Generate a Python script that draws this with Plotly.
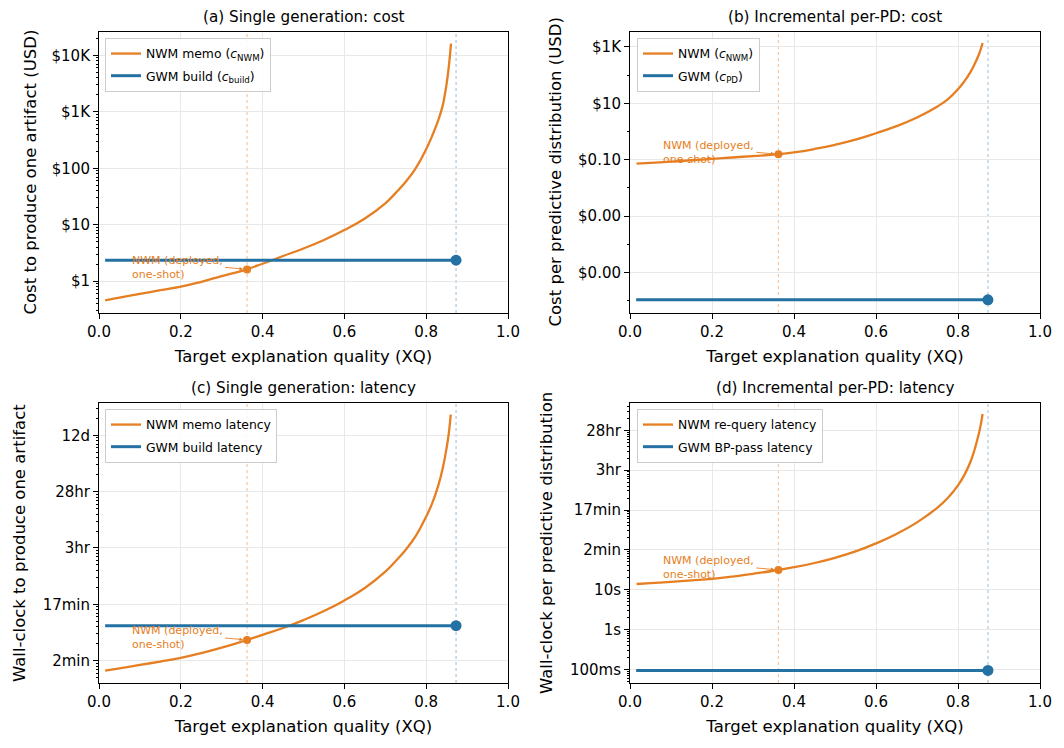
import numpy as np
import plotly.graph_objects as go

# target explanation quality (XQ) where things sit
xq_start = 0.015
xq_deployed = 0.362
xq_gwm = 0.873

# (a) single generation: cost (USD)
xq_a = [0.015, 0.05, 0.10, 0.15, 0.20, 0.25, 0.30, 0.35, 0.40, 0.45, 0.50,
        0.55, 0.60, 0.65, 0.70, 0.725, 0.75, 0.775, 0.80, 0.815, 0.83, 0.84,
        0.845, 0.85, 0.855, 0.8606]
cost_memo = [0.459, 0.513, 0.596, 0.692, 0.800, 0.977, 1.23, 1.53, 2.04, 2.79,
             3.80, 5.37, 8.04, 12.9, 24.0, 36.3, 57.5, 102, 219, 380, 724,
             1260, 1900, 3160, 6030, 16100]
cost_build = 2.36

# (b) incremental per-PD: cost (USD)
xq_b = [0.016, 0.05, 0.10, 0.15, 0.20, 0.25, 0.30, 0.35, 0.40, 0.45, 0.50,
        0.55, 0.60, 0.65, 0.70, 0.75, 0.775, 0.80, 0.815, 0.83, 0.84, 0.85,
        0.855, 0.860]
cost_pd_nwm = [0.0721, 0.0776, 0.0851, 0.0955, 0.107, 0.120, 0.135, 0.151,
               0.182, 0.240, 0.339, 0.513, 0.871, 1.55, 3.16, 7.76, 13.8,
               31.6, 58.9, 126, 240, 501, 794, 1380]
cost_pd_gwm = 1.07e-6

# (c) single generation: latency (seconds)
xq_c = [0.015, 0.05, 0.10, 0.15, 0.20, 0.25, 0.30, 0.35, 0.40, 0.45, 0.50,
        0.55, 0.60, 0.65, 0.70, 0.725, 0.75, 0.775, 0.80, 0.815, 0.83, 0.84,
        0.85, 0.855, 0.860]
lat_memo = [66.4, 73.3, 84.1, 96.6, 112, 136, 170, 219, 288, 380, 525, 759,
            1175, 1950, 3800, 5820, 9330, 16600, 36300, 63100, 132000, 251000,
            603000, 1047000, 2330000]
lat_build = 418

# (d) incremental per-PD: latency (seconds)
xq_d = [0.016, 0.05, 0.10, 0.15, 0.20, 0.25, 0.30, 0.35, 0.40, 0.45, 0.50,
        0.55, 0.60, 0.65, 0.70, 0.75, 0.775, 0.80, 0.815, 0.83, 0.84, 0.85,
        0.855, 0.860]
lat_requery = [13.9, 14.6, 15.8, 17.2, 18.8, 21.4, 25.1, 29.9, 36.7, 46.8,
               63.1, 91.2, 145, 251, 490, 1150, 2000, 4170, 7410, 15800,
               31600, 75900, 129000, 257000]
lat_bp = 0.094

# NWM deployed (one-shot) point in each panel
deployed_vals = [1.62, 0.155, 233, 31.3]

# y ticks
cost_a_ticks = [1, 10, 100, 1000, 10000]
cost_a_text = ["$1", "$10", "$100", "$1K", "$10K"]
cost_b_ticks = [1e-5, 1e-3, 0.1, 10, 1000]
cost_b_text = ["$0.00", "$0.00", "$0.10", "$10", "$1K"]
lat_c_ticks = [100, 1000, 1e4, 1e5, 1e6]
lat_c_text = ["2min", "17min", "3hr", "28hr", "12d"]
lat_d_ticks = [0.1, 1, 10, 100, 1000, 1e4, 1e5]
lat_d_text = ["100ms", "1s", "10s", "2min", "17min", "3hr", "28hr"]

ORANGE = "#e67e22"
BLUE = "#2471a3"
FONT = "DejaVu Sans"
# page body has an 8px margin, so the figure is 16px smaller than the window
OFF = 8
W, H = 1064 - 2 * OFF, 748 - 2 * OFF


def minor_vals(lo, hi, subs):
    return [s * 10.0 ** k for k in range(lo, hi + 1) for s in subs]


def px(v, size):
    return (v - OFF) / size


panels = [
    dict(ax="", xdom=(99, 508), ydom=(32, 313), yr=(-0.563, 4.413),
         x=xq_a, y=cost_memo, flat=cost_build, dep=deployed_vals[0],
         ticks=cost_a_ticks, text=cost_a_text,
         minor=minor_vals(-1, 4, range(2, 10)),
         title="(a) Single generation: cost",
         ylabel="Cost to produce one artifact (USD)", ylab_x=30,
         n1="NWM memo (<i>c</i><sub>NWM</sub>)",
         n2="GWM build (<i>c</i><sub>build</sub>)", leg=(105, 38)),
    dict(ax="2", xdom=(630, 1040), ydom=(32, 313), yr=(-6.44, 3.532),
         x=xq_b, y=cost_pd_nwm, flat=cost_pd_gwm, dep=deployed_vals[1],
         ticks=cost_b_ticks, text=cost_b_text,
         minor=minor_vals(-7, 3, [1]),
         title="(b) Incremental per-PD: cost",
         ylabel="Cost per predictive distribution (USD)", ylab_x=555,
         n1="NWM (<i>c</i><sub>NWM</sub>)",
         n2="GWM (<i>c</i><sub>PD</sub>)", leg=(637, 38)),
    dict(ax="3", xdom=(99, 508), ydom=(403, 683), yr=(1.604, 6.573),
         x=xq_c, y=lat_memo, flat=lat_build, dep=deployed_vals[2],
         ticks=lat_c_ticks, text=lat_c_text,
         minor=minor_vals(1, 6, range(2, 10)),
         title="(c) Single generation: latency",
         ylabel="Wall-clock to produce one artifact", ylab_x=19,
         n1="NWM memo latency", n2="GWM build latency", leg=(105, 409)),
    dict(ax="4", xdom=(630, 1040), ydom=(403, 683), yr=(-1.341, 5.685),
         x=xq_d, y=lat_requery, flat=lat_bp, dep=deployed_vals[3],
         ticks=lat_d_ticks, text=lat_d_text,
         minor=minor_vals(-2, 5, range(2, 10)),
         title="(d) Incremental per-PD: latency",
         ylabel="Wall-clock per predictive distribution", ylab_x=546,
         n1="NWM re-query latency", n2="GWM BP-pass latency", leg=(637, 409)),
]

fig = go.Figure()
layout = {}
annotations = []
shapes = []

for p in panels:
    xa, ya = "x" + p["ax"], "y" + p["ax"]
    leg = "legend" + p["ax"]

    fig.add_trace(go.Scatter(
        x=p["x"], y=p["y"], mode="lines", name=p["n1"], legend=leg,
        legendgroup=leg + "nwm",
        line=dict(color=ORANGE, width=2.3, shape="spline", smoothing=1.3),
        xaxis=xa, yaxis=ya))
    fig.add_trace(go.Scatter(
        x=[xq_start, xq_gwm], y=[p["flat"], p["flat"]], mode="lines",
        name=p["n2"], legend=leg, legendgroup=leg + "gwm",
        line=dict(color=BLUE, width=3), xaxis=xa, yaxis=ya))
    # end markers
    fig.add_trace(go.Scatter(
        x=[xq_gwm], y=[p["flat"]], mode="markers", showlegend=False,
        marker=dict(color=BLUE, size=11), xaxis=xa, yaxis=ya))
    fig.add_trace(go.Scatter(
        x=[xq_deployed], y=[p["dep"]], mode="markers", showlegend=False,
        marker=dict(color=ORANGE, size=8), xaxis=xa, yaxis=ya))

    x0, x1 = p["xdom"]
    y0, y1 = p["ydom"]
    layout["xaxis" + p["ax"]] = dict(
        domain=[px(x0, W), px(x1, W)], anchor=ya, range=[0, 1],
        tickvals=[0, 0.2, 0.4, 0.6, 0.8, 1.0], tickformat=".1f",
        ticks="outside", ticklen=5, tickwidth=1, tickcolor="black",
        showline=True, mirror=True, linecolor="black", linewidth=1,
        showgrid=True, gridcolor="#e8e8e8", gridwidth=0.8, zeroline=False,
        tickfont=dict(size=15, color="black"),
        title=dict(text="Target explanation quality (XQ)", standoff=10,
                   font=dict(size=16.5, color="black")),
        automargin=False)
    layout["yaxis" + p["ax"]] = dict(
        domain=[1 - px(y1, H), 1 - px(y0, H)], anchor=xa, type="log",
        range=list(p["yr"]), tickvals=p["ticks"], ticktext=p["text"],
        ticks="outside", ticklen=5, tickwidth=1, tickcolor="black",
        minor=dict(tickvals=p["minor"], ticks="outside", ticklen=2.5,
                   tickwidth=0.6, tickcolor="black", showgrid=False),
        showline=True, mirror=True, linecolor="black", linewidth=1,
        showgrid=True, gridcolor="#e8e8e8", gridwidth=0.8, zeroline=False,
        tickfont=dict(size=15, color="black"), automargin=False)
    layout[leg] = dict(
        x=px(p["leg"][0], W), y=1 - px(p["leg"][1], H), xanchor="left",
        yanchor="top", bgcolor="rgba(255,255,255,0.85)",
        bordercolor="#cccccc", borderwidth=1,
        font=dict(size=12.4, color="black"), tracegroupgap=3)

    # guide lines at deployed and GWM quality
    for xv, col in [(xq_deployed, "rgba(230,126,34,0.4)"),
                    (xq_gwm, "rgba(36,113,163,0.35)")]:
        shapes.append(dict(type="line", xref=xa, yref=ya + " domain",
                           x0=xv, x1=xv, y0=0, y1=1, layer="below",
                           line=dict(color=col, width=1.3, dash="dot")))

    annotations.append(dict(
        x=px((x0 + x1) / 2, W), y=1 - px(y0, H), xref="paper", yref="paper",
        text=p["title"], showarrow=False, xanchor="center", yanchor="bottom",
        yshift=4, font=dict(size=15.2, color="black")))
    # y axis label, rotated, centred on the panel
    annotations.append(dict(
        x=px(p["ylab_x"], W), y=1 - px((y0 + y1) / 2, H),
        xref="paper", yref="paper", text=p["ylabel"], textangle=-90,
        showarrow=False, xanchor="center", yanchor="middle",
        font=dict(size=16.5, color="black")))
    # label with a short arrow onto the deployed point
    annotations.append(dict(
        x=xq_deployed, y=np.log10(p["dep"]), xref=xa, yref=ya,
        text="NWM (deployed,<br>one-shot)", align="left",
        xanchor="right", yanchor="middle",
        showarrow=True, ax=-22, ay=-2, arrowhead=2, arrowsize=0.8,
        arrowwidth=0.9, arrowcolor=ORANGE, standoff=4,
        font=dict(size=11, color=ORANGE)))

fig.update_layout(
    width=W, height=H, margin=dict(l=0, r=0, t=0, b=0),
    paper_bgcolor="white", plot_bgcolor="white",
    font=dict(family=FONT, color="black"),
    annotations=annotations, shapes=shapes, **layout)

fig.write_html("out.html")
